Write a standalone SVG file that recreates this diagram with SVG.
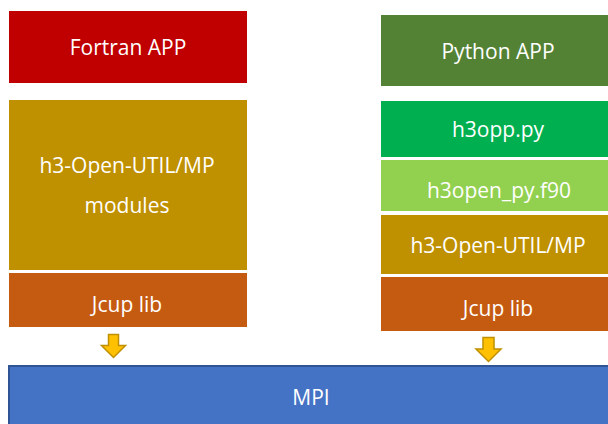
<svg xmlns="http://www.w3.org/2000/svg" width="608" height="424" viewBox="0 0 608 424">
<style>
text{font-family:"Open Sans","Liberation Sans",sans-serif;font-size:21px;fill:#ffffff;text-anchor:middle}
.arrow{fill:#FFC000;stroke:#BF9000;stroke-width:1.5}
</style>
<rect width="608" height="424" fill="#ffffff"/>
<g id="fortran-app"><rect x="9" y="11" width="238" height="72" fill="#C00000"/><text x="128" y="55">Fortran APP</text></g>
<g id="util-mp-left"><rect x="9" y="100" width="238" height="170" fill="#BF9000"/><text x="127" y="173">h3-Open-UTIL/MP</text><text x="127" y="213">modules</text></g>
<g id="jcup-left"><rect x="9" y="273" width="238" height="54" fill="#C55A11"/><text x="127" y="312">Jcup lib</text></g>
<g id="python-app"><rect x="381" y="15" width="227" height="71" fill="#548235"/><text x="498" y="59">Python APP</text></g>
<g id="h3opp"><rect x="381" y="101" width="227" height="56" fill="#00B050"/><text x="498" y="137">h3opp.py</text></g>
<g id="h3open-py"><rect x="381" y="160" width="227" height="51" fill="#92D050"/><text x="499" y="198">h3open_py.f90</text></g>
<g id="util-mp-right"><rect x="381" y="215" width="227" height="59" fill="#BF9000"/><text x="498" y="253">h3-Open-UTIL/MP</text></g>
<g id="jcup-right"><rect x="381" y="277" width="227" height="54" fill="#C55A11"/><text x="498" y="316">Jcup lib</text></g>
<g id="mpi"><rect x="9" y="366" width="601" height="60" fill="#4472C4" stroke="#2F5597" stroke-width="2"/><text x="311" y="405">MPI</text></g>
<g id="connectors">
<path class="arrow" d="M108.5 334.5 H118.5 V345.5 H125.5 L113.5 357.5 L101.5 345.5 H108.5 Z"/>
<path class="arrow" d="M483 337.5 H494 V349 H501 L488.5 361.5 L476 349 H483 Z"/>
</g>
</svg>
